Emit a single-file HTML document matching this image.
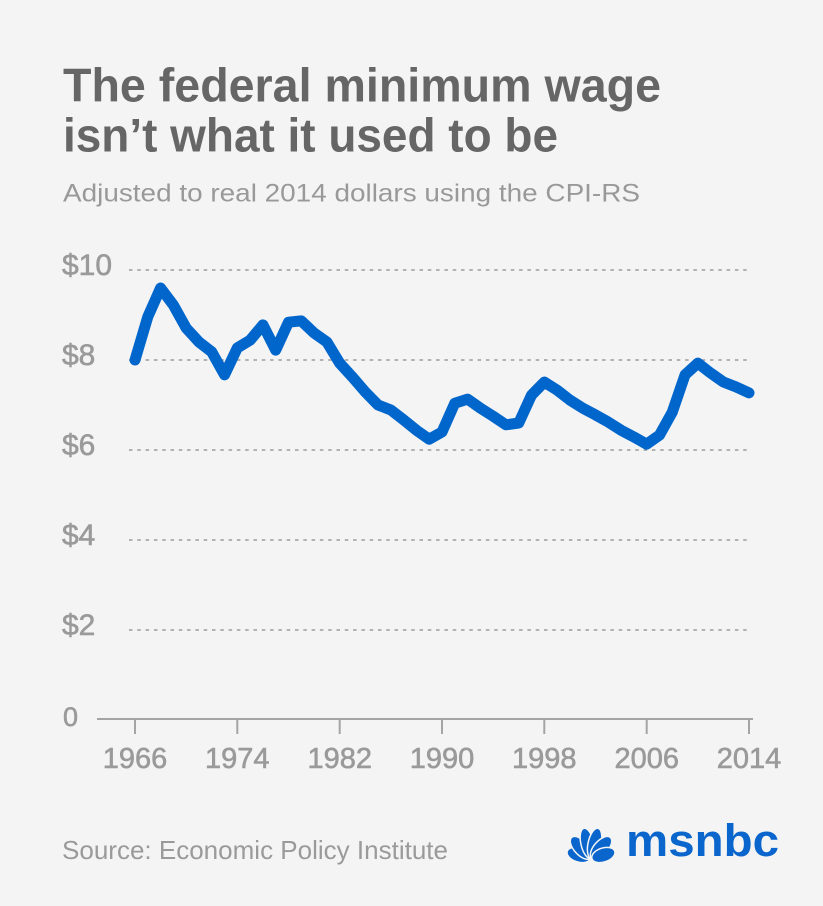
<!DOCTYPE html>
<html>
<head>
<meta charset="utf-8">
<style>
  html, body { margin:0; padding:0; background:#f4f4f4; }
  svg { display:block; }
  text { font-family: "Liberation Sans", "DejaVu Sans", sans-serif; }
</style>
</head>
<body>
<svg width="823" height="906" viewBox="0 0 823 906" xmlns="http://www.w3.org/2000/svg">
  <rect x="0" y="0" width="823" height="906" fill="#f4f4f4"/>

  <!-- Title -->
  <text x="63" y="101.5" font-size="47" font-weight="bold" fill="#666666" textLength="598" lengthAdjust="spacingAndGlyphs">The federal minimum wage</text>
  <text x="63" y="151.5" font-size="47" font-weight="bold" fill="#666666" textLength="495" lengthAdjust="spacingAndGlyphs">isn’t what it used to be</text>
  <text x="63" y="201.5" font-size="25" fill="#999999" textLength="577" lengthAdjust="spacingAndGlyphs">Adjusted to real 2014 dollars using the CPI-RS</text>

  <!-- Gridlines -->
  <g stroke="#9c9c9c" stroke-width="1.6" stroke-dasharray="3.5 4.8" fill="none">
    <line x1="129" y1="270" x2="750" y2="270"/>
    <line x1="129" y1="360" x2="750" y2="360"/>
    <line x1="129" y1="450" x2="750" y2="450"/>
    <line x1="129" y1="540" x2="750" y2="540"/>
    <line x1="129" y1="630" x2="750" y2="630"/>
  </g>

  <!-- Y labels -->
  <g font-size="30" fill="#9a9a9a" stroke="#9a9a9a" stroke-width="0.6">
    <text x="62" y="275" textLength="50" lengthAdjust="spacingAndGlyphs">$10</text>
    <text x="62" y="365">$8</text>
    <text x="62" y="455">$6</text>
    <text x="62" y="545">$4</text>
    <text x="62" y="635">$2</text>
    <text x="63" y="726" font-size="27">0</text>
  </g>

  <!-- X axis -->
  <g stroke="#a4a4a4" stroke-width="2" fill="none">
    <line x1="97" y1="719" x2="753" y2="719"/>
    <line x1="135" y1="719" x2="135" y2="734"/>
    <line x1="237.3" y1="719" x2="237.3" y2="734"/>
    <line x1="339.7" y1="719" x2="339.7" y2="734"/>
    <line x1="442" y1="719" x2="442" y2="734"/>
    <line x1="544.3" y1="719" x2="544.3" y2="734"/>
    <line x1="646.7" y1="719" x2="646.7" y2="734"/>
    <line x1="749" y1="719" x2="749" y2="734"/>
  </g>
  <g font-size="29" fill="#9a9a9a" stroke="#9a9a9a" stroke-width="0.6" text-anchor="middle">
    <text x="135" y="768">1966</text>
    <text x="237.3" y="768">1974</text>
    <text x="339.7" y="768">1982</text>
    <text x="442" y="768">1990</text>
    <text x="544.3" y="768">1998</text>
    <text x="646.7" y="768">2006</text>
    <text x="749" y="768">2014</text>
  </g>

  <!-- Data line -->
  <polyline fill="none" stroke="#0066cc" stroke-width="11" stroke-linejoin="round" stroke-linecap="round"
    points="135,360 147.79,316.8 160.58,288 173.38,305.1 186.17,328.05 198.96,342 211.75,351.9 224.54,374.85 237.33,347.85 250.13,340.2 262.92,324.9 275.71,350.1 288.5,322.2 301.29,320.85 314.08,333 326.88,342 339.67,363.15 352.46,377.1 365.25,391.95 378.04,405 390.83,409.95 403.63,419.85 416.42,430.2 429.21,439.2 442,432 454.79,403.2 467.58,399.15 480.38,408.15 493.17,416.25 505.96,424.8 518.75,423 531.54,395.1 544.33,382.05 557.13,390.15 569.92,400.05 582.71,408.15 595.5,414.9 608.29,422.1 621.08,430.2 633.88,436.95 646.67,444.15 659.46,435.15 672.25,412.2 685.04,374.85 697.83,363.15 710.63,373.05 723.42,382.05 736.21,387 749,392.85"/>

  <!-- Source -->
  <text x="62" y="859" font-size="26" fill="#9a9a9a" textLength="386" lengthAdjust="spacingAndGlyphs">Source: Economic Policy Institute</text>

  <!-- Peacock logo -->
  <g fill="#0a66cc" stroke="#f4f4f4" stroke-width="1.5">
    <ellipse cx="591" cy="846" rx="7" ry="12" transform="rotate(-72 591 859)"/>
    <ellipse cx="591" cy="844" rx="7" ry="14" transform="rotate(-42 591 859)"/>
    <ellipse cx="591" cy="843" rx="6.5" ry="15.5" transform="rotate(-13 591 859)"/>
    <ellipse cx="591" cy="843" rx="6.5" ry="15.5" transform="rotate(13 591 859)"/>
    <ellipse cx="591" cy="844" rx="7" ry="14" transform="rotate(42 591 859)"/>
    <ellipse cx="591" cy="846" rx="7" ry="12" transform="rotate(72 591 859)"/>
  </g>
  <text x="626" y="856" font-size="45" font-weight="bold" fill="#0a66cc" textLength="153" lengthAdjust="spacingAndGlyphs">msnbc</text>
</svg>
</body>
</html>
